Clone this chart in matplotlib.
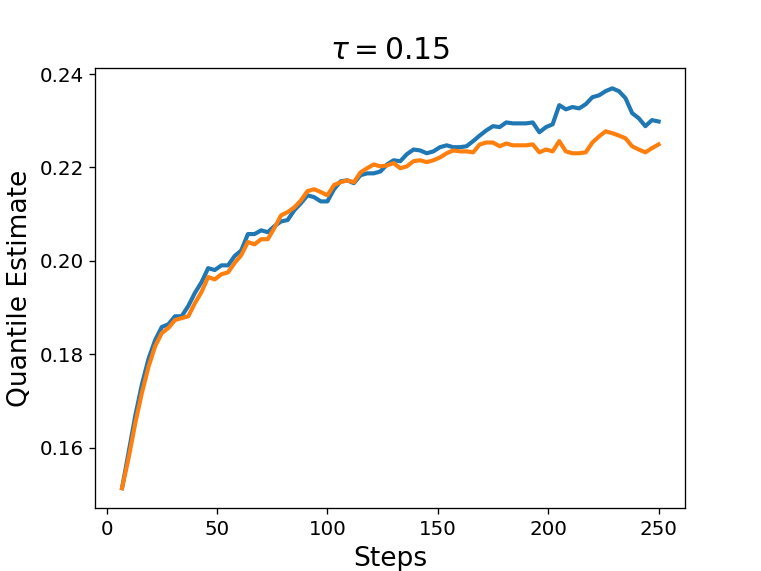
import numpy as np
import matplotlib
matplotlib.use("Agg")
import matplotlib.pyplot as plt

# evaluation steps (every 3 steps)
steps = np.arange(7, 251, 3)

# quantile estimates
blue_est = [0.1513, 0.1590, 0.1668, 0.1735, 0.1790, 0.1830, 0.1858, 0.1864, 0.1881, 0.1881,
            0.1903, 0.1931, 0.1954, 0.1984, 0.1980, 0.1990, 0.1990, 0.2010, 0.2022, 0.2057,
            0.2057, 0.2065, 0.2061, 0.2074, 0.2084, 0.2087, 0.2108, 0.2123, 0.2140, 0.2136,
            0.2127, 0.2127, 0.2153, 0.2170, 0.2172, 0.2166, 0.2183, 0.2187, 0.2187, 0.2191,
            0.2206, 0.2215, 0.2213, 0.2228, 0.2238, 0.2236, 0.2230, 0.2234, 0.2243, 0.2247,
            0.2243, 0.2243, 0.2245, 0.2256, 0.2268, 0.2279, 0.2288, 0.2286, 0.2296, 0.2294,
            0.2294, 0.2294, 0.2296, 0.2275, 0.2286, 0.2292, 0.2333, 0.2324, 0.2329, 0.2326,
            0.2335, 0.2350, 0.2354, 0.2363, 0.2369, 0.2363, 0.2348, 0.2316, 0.2305, 0.2288,
            0.2301, 0.2298]
orange_est = [0.1513, 0.1578, 0.1652, 0.1717, 0.1773, 0.1817, 0.1845, 0.1856, 0.1873, 0.1877,
              0.1881, 0.1909, 0.1933, 0.1965, 0.1960, 0.1971, 0.1975, 0.1995, 0.2012, 0.2040,
              0.2035, 0.2046, 0.2046, 0.2070, 0.2097, 0.2104, 0.2114, 0.2129, 0.2149, 0.2153,
              0.2147, 0.2140, 0.2162, 0.2168, 0.2172, 0.2168, 0.2189, 0.2198, 0.2206, 0.2202,
              0.2204, 0.2209, 0.2198, 0.2202, 0.2213, 0.2215, 0.2211, 0.2215, 0.2221, 0.2230,
              0.2236, 0.2234, 0.2234, 0.2232, 0.2249, 0.2253, 0.2253, 0.2245, 0.2251, 0.2247,
              0.2247, 0.2247, 0.2249, 0.2232, 0.2238, 0.2234, 0.2256, 0.2234, 0.2230, 0.2230,
              0.2232, 0.2253, 0.2266, 0.2277, 0.2273, 0.2268, 0.2262, 0.2245, 0.2238, 0.2232,
              0.2241, 0.2249]

fig, ax = plt.subplots(figsize=(6.4, 4.8), dpi=119)
ax.plot(steps, blue_est, color='#1f77b4', linewidth=2.5)
ax.plot(steps, orange_est, color='#ff7f0e', linewidth=2.5)

ax.set_title(r'$\tau = 0.15$', fontsize=18)
ax.set_xlabel('Steps', fontsize=16)
ax.set_ylabel('Quantile Estimate', fontsize=16)
ax.tick_params(labelsize=12)
ax.set_xticks([0, 50, 100, 150, 200, 250])
ax.set_yticks([0.16, 0.18, 0.20, 0.22, 0.24])

fig.savefig('out.png', dpi=119)
